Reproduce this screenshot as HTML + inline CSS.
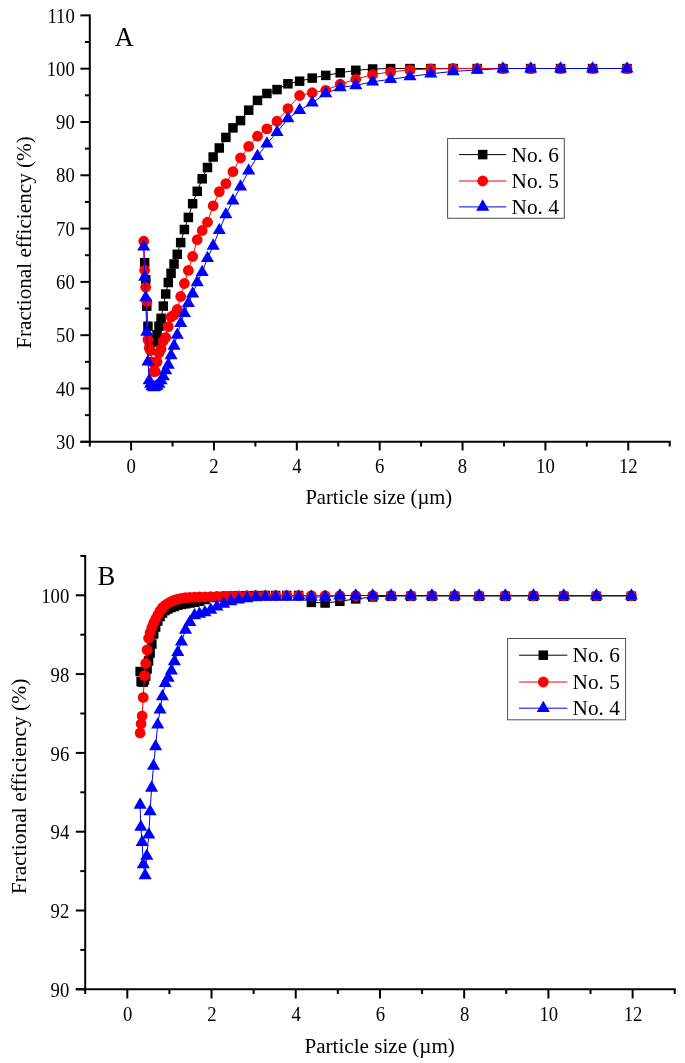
<!DOCTYPE html>
<html><head><meta charset="utf-8"><style>
html,body{margin:0;padding:0;background:#fff;}
svg{display:block;will-change:transform;}
text{font-family:"Liberation Serif",serif;fill:#000;}
</style></head><body>
<svg width="685" height="1063" viewBox="0 0 685 1063">
<rect width="685" height="1063" fill="#fff"/>
<line x1="89.8" y1="14.38" x2="89.8" y2="446.6" stroke="#000" stroke-width="2"/>
<line x1="80.4" y1="441.8" x2="670.7" y2="441.8" stroke="#000" stroke-width="2"/>
<line x1="80.4" y1="441.8" x2="89.8" y2="441.8" stroke="#000" stroke-width="2"/>
<line x1="80.4" y1="388.5" x2="89.8" y2="388.5" stroke="#000" stroke-width="2"/>
<line x1="80.4" y1="335.19" x2="89.8" y2="335.19" stroke="#000" stroke-width="2"/>
<line x1="80.4" y1="281.89" x2="89.8" y2="281.89" stroke="#000" stroke-width="2"/>
<line x1="80.4" y1="228.59" x2="89.8" y2="228.59" stroke="#000" stroke-width="2"/>
<line x1="80.4" y1="175.29" x2="89.8" y2="175.29" stroke="#000" stroke-width="2"/>
<line x1="80.4" y1="121.98" x2="89.8" y2="121.98" stroke="#000" stroke-width="2"/>
<line x1="80.4" y1="68.68" x2="89.8" y2="68.68" stroke="#000" stroke-width="2"/>
<line x1="80.4" y1="15.38" x2="89.8" y2="15.38" stroke="#000" stroke-width="2"/>
<line x1="84.9" y1="415.15" x2="89.8" y2="415.15" stroke="#000" stroke-width="2"/>
<line x1="84.9" y1="361.85" x2="89.8" y2="361.85" stroke="#000" stroke-width="2"/>
<line x1="84.9" y1="308.54" x2="89.8" y2="308.54" stroke="#000" stroke-width="2"/>
<line x1="84.9" y1="255.24" x2="89.8" y2="255.24" stroke="#000" stroke-width="2"/>
<line x1="84.9" y1="201.94" x2="89.8" y2="201.94" stroke="#000" stroke-width="2"/>
<line x1="84.9" y1="148.63" x2="89.8" y2="148.63" stroke="#000" stroke-width="2"/>
<line x1="84.9" y1="95.33" x2="89.8" y2="95.33" stroke="#000" stroke-width="2"/>
<line x1="84.9" y1="42.03" x2="89.8" y2="42.03" stroke="#000" stroke-width="2"/>
<line x1="131.1" y1="441.8" x2="131.1" y2="450.4" stroke="#000" stroke-width="2"/>
<line x1="172.53" y1="441.8" x2="172.53" y2="446.5" stroke="#000" stroke-width="2"/>
<line x1="213.96" y1="441.8" x2="213.96" y2="450.4" stroke="#000" stroke-width="2"/>
<line x1="255.39" y1="441.8" x2="255.39" y2="446.5" stroke="#000" stroke-width="2"/>
<line x1="296.82" y1="441.8" x2="296.82" y2="450.4" stroke="#000" stroke-width="2"/>
<line x1="338.25" y1="441.8" x2="338.25" y2="446.5" stroke="#000" stroke-width="2"/>
<line x1="379.68" y1="441.8" x2="379.68" y2="450.4" stroke="#000" stroke-width="2"/>
<line x1="421.11" y1="441.8" x2="421.11" y2="446.5" stroke="#000" stroke-width="2"/>
<line x1="462.54" y1="441.8" x2="462.54" y2="450.4" stroke="#000" stroke-width="2"/>
<line x1="503.97" y1="441.8" x2="503.97" y2="446.5" stroke="#000" stroke-width="2"/>
<line x1="545.4" y1="441.8" x2="545.4" y2="450.4" stroke="#000" stroke-width="2"/>
<line x1="586.83" y1="441.8" x2="586.83" y2="446.5" stroke="#000" stroke-width="2"/>
<line x1="628.26" y1="441.8" x2="628.26" y2="450.4" stroke="#000" stroke-width="2"/>
<line x1="669.69" y1="441.8" x2="669.69" y2="446.5" stroke="#000" stroke-width="2"/>
<text transform="translate(74.8 449) scale(0.935 1)" font-size="20.0" text-anchor="end">30</text>
<text transform="translate(74.8 395.7) scale(0.935 1)" font-size="20.0" text-anchor="end">40</text>
<text transform="translate(74.8 342.39) scale(0.935 1)" font-size="20.0" text-anchor="end">50</text>
<text transform="translate(74.8 289.09) scale(0.935 1)" font-size="20.0" text-anchor="end">60</text>
<text transform="translate(74.8 235.79) scale(0.935 1)" font-size="20.0" text-anchor="end">70</text>
<text transform="translate(74.8 182.49) scale(0.935 1)" font-size="20.0" text-anchor="end">80</text>
<text transform="translate(74.8 129.18) scale(0.935 1)" font-size="20.0" text-anchor="end">90</text>
<text transform="translate(74.8 75.88) scale(0.935 1)" font-size="20.0" text-anchor="end">100</text>
<text transform="translate(74.8 22.58) scale(0.935 1)" font-size="20.0" text-anchor="end">110</text>
<text transform="translate(131.1 472.8) scale(0.935 1)" font-size="20.0" text-anchor="middle">0</text>
<text transform="translate(213.96 472.8) scale(0.935 1)" font-size="20.0" text-anchor="middle">2</text>
<text transform="translate(296.82 472.8) scale(0.935 1)" font-size="20.0" text-anchor="middle">4</text>
<text transform="translate(379.68 472.8) scale(0.935 1)" font-size="20.0" text-anchor="middle">6</text>
<text transform="translate(462.54 472.8) scale(0.935 1)" font-size="20.0" text-anchor="middle">8</text>
<text transform="translate(545.4 472.8) scale(0.935 1)" font-size="20.0" text-anchor="middle">10</text>
<text transform="translate(628.26 472.8) scale(0.935 1)" font-size="20.0" text-anchor="middle">12</text>
<text x="378.8" y="504" font-size="20.6" text-anchor="middle" >Particle size (&#181;m)</text>
<text x="0" y="0" font-size="21.2" text-anchor="middle" transform="translate(31.2 242.5) rotate(-90)">Fractional efficiency (%)</text>
<text x="114.8" y="45.7" font-size="26.3" text-anchor="start" >A</text>
<line x1="85.2" y1="554.9" x2="85.2" y2="994.1" stroke="#000" stroke-width="2"/>
<line x1="75.8" y1="989.3" x2="675.7" y2="989.3" stroke="#000" stroke-width="2"/>
<line x1="75.8" y1="989.3" x2="85.2" y2="989.3" stroke="#000" stroke-width="2"/>
<line x1="75.8" y1="910.5" x2="85.2" y2="910.5" stroke="#000" stroke-width="2"/>
<line x1="75.8" y1="831.7" x2="85.2" y2="831.7" stroke="#000" stroke-width="2"/>
<line x1="75.8" y1="752.9" x2="85.2" y2="752.9" stroke="#000" stroke-width="2"/>
<line x1="75.8" y1="674.1" x2="85.2" y2="674.1" stroke="#000" stroke-width="2"/>
<line x1="75.8" y1="595.3" x2="85.2" y2="595.3" stroke="#000" stroke-width="2"/>
<line x1="80.3" y1="949.9" x2="85.2" y2="949.9" stroke="#000" stroke-width="2"/>
<line x1="80.3" y1="871.1" x2="85.2" y2="871.1" stroke="#000" stroke-width="2"/>
<line x1="80.3" y1="792.3" x2="85.2" y2="792.3" stroke="#000" stroke-width="2"/>
<line x1="80.3" y1="713.5" x2="85.2" y2="713.5" stroke="#000" stroke-width="2"/>
<line x1="80.3" y1="634.7" x2="85.2" y2="634.7" stroke="#000" stroke-width="2"/>
<line x1="80.3" y1="555.9" x2="85.2" y2="555.9" stroke="#000" stroke-width="2"/>
<line x1="127.3" y1="989.3" x2="127.3" y2="998.5" stroke="#000" stroke-width="2"/>
<line x1="169.41" y1="989.3" x2="169.41" y2="994" stroke="#000" stroke-width="2"/>
<line x1="211.52" y1="989.3" x2="211.52" y2="998.5" stroke="#000" stroke-width="2"/>
<line x1="253.63" y1="989.3" x2="253.63" y2="994" stroke="#000" stroke-width="2"/>
<line x1="295.74" y1="989.3" x2="295.74" y2="998.5" stroke="#000" stroke-width="2"/>
<line x1="337.85" y1="989.3" x2="337.85" y2="994" stroke="#000" stroke-width="2"/>
<line x1="379.96" y1="989.3" x2="379.96" y2="998.5" stroke="#000" stroke-width="2"/>
<line x1="422.07" y1="989.3" x2="422.07" y2="994" stroke="#000" stroke-width="2"/>
<line x1="464.18" y1="989.3" x2="464.18" y2="998.5" stroke="#000" stroke-width="2"/>
<line x1="506.29" y1="989.3" x2="506.29" y2="994" stroke="#000" stroke-width="2"/>
<line x1="548.4" y1="989.3" x2="548.4" y2="998.5" stroke="#000" stroke-width="2"/>
<line x1="590.51" y1="989.3" x2="590.51" y2="994" stroke="#000" stroke-width="2"/>
<line x1="632.62" y1="989.3" x2="632.62" y2="998.5" stroke="#000" stroke-width="2"/>
<line x1="674.73" y1="989.3" x2="674.73" y2="994" stroke="#000" stroke-width="2"/>
<text transform="translate(69.3 997) scale(0.935 1)" font-size="20.0" text-anchor="end">90</text>
<text transform="translate(69.3 918.2) scale(0.935 1)" font-size="20.0" text-anchor="end">92</text>
<text transform="translate(69.3 839.4) scale(0.935 1)" font-size="20.0" text-anchor="end">94</text>
<text transform="translate(69.3 760.6) scale(0.935 1)" font-size="20.0" text-anchor="end">96</text>
<text transform="translate(69.3 681.8) scale(0.935 1)" font-size="20.0" text-anchor="end">98</text>
<text transform="translate(69.3 603) scale(0.935 1)" font-size="20.0" text-anchor="end">100</text>
<text transform="translate(127.7 1021.1) scale(0.935 1)" font-size="20.0" text-anchor="middle">0</text>
<text transform="translate(211.92 1021.1) scale(0.935 1)" font-size="20.0" text-anchor="middle">2</text>
<text transform="translate(296.14 1021.1) scale(0.935 1)" font-size="20.0" text-anchor="middle">4</text>
<text transform="translate(380.36 1021.1) scale(0.935 1)" font-size="20.0" text-anchor="middle">6</text>
<text transform="translate(464.58 1021.1) scale(0.935 1)" font-size="20.0" text-anchor="middle">8</text>
<text transform="translate(548.8 1021.1) scale(0.935 1)" font-size="20.0" text-anchor="middle">10</text>
<text transform="translate(633.02 1021.1) scale(0.935 1)" font-size="20.0" text-anchor="middle">12</text>
<text x="379.7" y="1052.9" font-size="21.1" text-anchor="middle" >Particle size (&#181;m)</text>
<text x="0" y="0" font-size="21.5" text-anchor="middle" transform="translate(25.5 786.5) rotate(-90)">Fractional efficiency (%)</text>
<text x="97.5" y="584.8" font-size="26.6" text-anchor="start" >B</text>
<polyline fill="none" stroke="#000" stroke-width="1.0" points="144.68,262.6 145.69,279.7 146.78,306.2 147.95,326.2 149.21,340 150.56,342 152.01,342 153.57,341.5 155.25,341.4 157.05,334.7 158.99,326.2 161.07,318.3 163.3,306.1 165.71,294 168.29,282.5 171.06,273.3 174.04,264 177.25,254.3 180.69,242.6 184.39,229.5 188.37,217.4 192.64,203.7 197.23,191.3 202.17,178.8 207.47,167.5 213.17,157 219.29,148 225.87,137.4 232.94,127.9 240.54,120.6 248.7,110.2 257.47,100.4 266.9,93.5 277.03,89.6 287.92,83.8 299.62,81.2 312.2,78.1 325.71,75.4 340.23,72.8 355.83,70.3 372.6,69 390.61,68.5 409.97,68.5 430.78,68.5 453.14,68.5 477.17,68.5 502.99,68.5 530.73,68.5 560.55,68.5 592.59,68.5 627.02,68.5"/>
<rect x="139.93" y="257.85" width="9.5" height="9.5" fill="#000"/>
<rect x="140.94" y="274.95" width="9.5" height="9.5" fill="#000"/>
<rect x="142.03" y="301.45" width="9.5" height="9.5" fill="#000"/>
<rect x="143.2" y="321.45" width="9.5" height="9.5" fill="#000"/>
<rect x="144.46" y="335.25" width="9.5" height="9.5" fill="#000"/>
<rect x="145.81" y="337.25" width="9.5" height="9.5" fill="#000"/>
<rect x="147.26" y="337.25" width="9.5" height="9.5" fill="#000"/>
<rect x="148.82" y="336.75" width="9.5" height="9.5" fill="#000"/>
<rect x="150.5" y="336.65" width="9.5" height="9.5" fill="#000"/>
<rect x="152.3" y="329.95" width="9.5" height="9.5" fill="#000"/>
<rect x="154.24" y="321.45" width="9.5" height="9.5" fill="#000"/>
<rect x="156.32" y="313.55" width="9.5" height="9.5" fill="#000"/>
<rect x="158.55" y="301.35" width="9.5" height="9.5" fill="#000"/>
<rect x="160.96" y="289.25" width="9.5" height="9.5" fill="#000"/>
<rect x="163.54" y="277.75" width="9.5" height="9.5" fill="#000"/>
<rect x="166.31" y="268.55" width="9.5" height="9.5" fill="#000"/>
<rect x="169.29" y="259.25" width="9.5" height="9.5" fill="#000"/>
<rect x="172.5" y="249.55" width="9.5" height="9.5" fill="#000"/>
<rect x="175.94" y="237.85" width="9.5" height="9.5" fill="#000"/>
<rect x="179.64" y="224.75" width="9.5" height="9.5" fill="#000"/>
<rect x="183.62" y="212.65" width="9.5" height="9.5" fill="#000"/>
<rect x="187.89" y="198.95" width="9.5" height="9.5" fill="#000"/>
<rect x="192.48" y="186.55" width="9.5" height="9.5" fill="#000"/>
<rect x="197.42" y="174.05" width="9.5" height="9.5" fill="#000"/>
<rect x="202.72" y="162.75" width="9.5" height="9.5" fill="#000"/>
<rect x="208.42" y="152.25" width="9.5" height="9.5" fill="#000"/>
<rect x="214.54" y="143.25" width="9.5" height="9.5" fill="#000"/>
<rect x="221.12" y="132.65" width="9.5" height="9.5" fill="#000"/>
<rect x="228.19" y="123.15" width="9.5" height="9.5" fill="#000"/>
<rect x="235.79" y="115.85" width="9.5" height="9.5" fill="#000"/>
<rect x="243.95" y="105.45" width="9.5" height="9.5" fill="#000"/>
<rect x="252.72" y="95.65" width="9.5" height="9.5" fill="#000"/>
<rect x="262.15" y="88.75" width="9.5" height="9.5" fill="#000"/>
<rect x="272.28" y="84.85" width="9.5" height="9.5" fill="#000"/>
<rect x="283.17" y="79.05" width="9.5" height="9.5" fill="#000"/>
<rect x="294.87" y="76.45" width="9.5" height="9.5" fill="#000"/>
<rect x="307.45" y="73.35" width="9.5" height="9.5" fill="#000"/>
<rect x="320.96" y="70.65" width="9.5" height="9.5" fill="#000"/>
<rect x="335.48" y="68.05" width="9.5" height="9.5" fill="#000"/>
<rect x="351.08" y="65.55" width="9.5" height="9.5" fill="#000"/>
<rect x="367.85" y="64.25" width="9.5" height="9.5" fill="#000"/>
<rect x="385.86" y="63.85" width="9.5" height="9.5" fill="#000"/>
<rect x="405.22" y="63.85" width="9.5" height="9.5" fill="#000"/>
<rect x="426.03" y="63.85" width="9.5" height="9.5" fill="#000"/>
<rect x="448.39" y="63.85" width="9.5" height="9.5" fill="#000"/>
<rect x="472.42" y="63.85" width="9.5" height="9.5" fill="#000"/>
<rect x="498.24" y="63.85" width="9.5" height="9.5" fill="#000"/>
<rect x="525.98" y="63.85" width="9.5" height="9.5" fill="#000"/>
<rect x="555.8" y="63.85" width="9.5" height="9.5" fill="#000"/>
<rect x="587.84" y="63.85" width="9.5" height="9.5" fill="#000"/>
<rect x="622.27" y="63.85" width="9.5" height="9.5" fill="#000"/>
<polyline fill="none" stroke="#f00" stroke-width="1.0" points="143.74,241.2 144.68,270.2 145.69,287.3 146.78,301.5 147.95,339.5 149.21,348 150.56,350.5 152.01,362 153.57,371.5 155.25,371.5 157.05,362 158.99,353 161.07,349 163.3,341 165.71,337.5 168.29,326.6 171.06,317 174.04,315 177.25,309.5 180.69,296.5 184.39,283.5 188.37,270.4 192.64,256.5 197.23,239.7 202.17,230.5 207.47,222.2 213.17,205.8 219.29,191.6 225.87,183.6 232.94,171.6 240.54,158 248.7,146.4 257.47,136.2 266.9,128.9 277.03,121.2 287.92,108.6 299.62,95.5 312.2,92.7 325.71,90.3 340.23,84.2 355.83,79.3 372.6,74.6 390.61,71.9 409.97,69.9 430.78,69 453.14,68.5 477.17,68.5 502.99,68.5 530.73,68.5 560.55,68.5 592.59,68.5 627.02,68.5"/>
<circle cx="143.74" cy="241.2" r="5.4" fill="#f00"/>
<circle cx="144.68" cy="270.2" r="5.4" fill="#f00"/>
<circle cx="145.69" cy="287.3" r="5.4" fill="#f00"/>
<circle cx="146.78" cy="301.5" r="5.4" fill="#f00"/>
<circle cx="147.95" cy="339.5" r="5.4" fill="#f00"/>
<circle cx="149.21" cy="348" r="5.4" fill="#f00"/>
<circle cx="150.56" cy="350.5" r="5.4" fill="#f00"/>
<circle cx="152.01" cy="362" r="5.4" fill="#f00"/>
<circle cx="153.57" cy="371.5" r="5.4" fill="#f00"/>
<circle cx="155.25" cy="371.5" r="5.4" fill="#f00"/>
<circle cx="157.05" cy="362" r="5.4" fill="#f00"/>
<circle cx="158.99" cy="353" r="5.4" fill="#f00"/>
<circle cx="161.07" cy="349" r="5.4" fill="#f00"/>
<circle cx="163.3" cy="341" r="5.4" fill="#f00"/>
<circle cx="165.71" cy="337.5" r="5.4" fill="#f00"/>
<circle cx="168.29" cy="326.6" r="5.4" fill="#f00"/>
<circle cx="171.06" cy="317" r="5.4" fill="#f00"/>
<circle cx="174.04" cy="315" r="5.4" fill="#f00"/>
<circle cx="177.25" cy="309.5" r="5.4" fill="#f00"/>
<circle cx="180.69" cy="296.5" r="5.4" fill="#f00"/>
<circle cx="184.39" cy="283.5" r="5.4" fill="#f00"/>
<circle cx="188.37" cy="270.4" r="5.4" fill="#f00"/>
<circle cx="192.64" cy="256.5" r="5.4" fill="#f00"/>
<circle cx="197.23" cy="239.7" r="5.4" fill="#f00"/>
<circle cx="202.17" cy="230.5" r="5.4" fill="#f00"/>
<circle cx="207.47" cy="222.2" r="5.4" fill="#f00"/>
<circle cx="213.17" cy="205.8" r="5.4" fill="#f00"/>
<circle cx="219.29" cy="191.6" r="5.4" fill="#f00"/>
<circle cx="225.87" cy="183.6" r="5.4" fill="#f00"/>
<circle cx="232.94" cy="171.6" r="5.4" fill="#f00"/>
<circle cx="240.54" cy="158" r="5.4" fill="#f00"/>
<circle cx="248.7" cy="146.4" r="5.4" fill="#f00"/>
<circle cx="257.47" cy="136.2" r="5.4" fill="#f00"/>
<circle cx="266.9" cy="128.9" r="5.4" fill="#f00"/>
<circle cx="277.03" cy="121.2" r="5.4" fill="#f00"/>
<circle cx="287.92" cy="108.6" r="5.4" fill="#f00"/>
<circle cx="299.62" cy="95.5" r="5.4" fill="#f00"/>
<circle cx="312.2" cy="92.7" r="5.4" fill="#f00"/>
<circle cx="325.71" cy="90.3" r="5.4" fill="#f00"/>
<circle cx="340.23" cy="84.2" r="5.4" fill="#f00"/>
<circle cx="355.83" cy="79.3" r="5.4" fill="#f00"/>
<circle cx="372.6" cy="74.6" r="5.4" fill="#f00"/>
<circle cx="390.61" cy="71.9" r="5.4" fill="#f00"/>
<circle cx="409.97" cy="69.9" r="5.4" fill="#f00"/>
<circle cx="430.78" cy="69" r="5.4" fill="#f00"/>
<circle cx="453.14" cy="68.5" r="5.4" fill="#f00"/>
<circle cx="477.17" cy="68.7" r="5.4" fill="#f00"/>
<circle cx="502.99" cy="68.7" r="5.4" fill="#f00"/>
<circle cx="530.73" cy="68.7" r="5.4" fill="#f00"/>
<circle cx="560.55" cy="68.7" r="5.4" fill="#f00"/>
<circle cx="592.59" cy="68.7" r="5.4" fill="#f00"/>
<circle cx="627.02" cy="68.7" r="5.4" fill="#f00"/>
<polyline fill="none" stroke="#00f" stroke-width="1.0" points="143.74,246.8 144.68,277.1 145.69,297.5 146.78,332 147.95,361.8 149.21,380.6 150.56,384 152.01,386.3 153.57,387.6 155.25,387 157.05,386 158.99,384 161.07,380.5 163.3,376.6 165.71,370.5 168.29,364.9 171.06,355.5 174.04,345.9 177.25,335 180.69,323.3 184.39,313.3 188.37,303.2 192.64,293.8 197.23,282.4 202.17,272.2 207.47,258.3 213.17,245.9 219.29,230.3 225.87,214.6 232.94,200.7 240.54,186.8 248.7,170.8 257.47,156.3 266.9,143.8 277.03,132.2 287.92,118.6 299.62,110.3 312.2,102.8 325.71,93.6 340.23,87.5 355.83,85.4 372.6,81.7 390.61,79.3 409.97,76.5 430.78,73.8 453.14,71.4 477.17,70 502.99,68.5 530.73,68.5 560.55,68.5 592.59,68.5 627.02,68.5"/>
<path d="M143.74 239.27L150.29 250.57L137.19 250.57Z" fill="#00f"/>
<path d="M144.68 269.57L151.23 280.87L138.13 280.87Z" fill="#00f"/>
<path d="M145.69 289.97L152.24 301.27L139.14 301.27Z" fill="#00f"/>
<path d="M146.78 324.47L153.33 335.77L140.23 335.77Z" fill="#00f"/>
<path d="M147.95 354.27L154.5 365.57L141.4 365.57Z" fill="#00f"/>
<path d="M149.21 373.07L155.76 384.37L142.66 384.37Z" fill="#00f"/>
<path d="M150.56 376.47L157.11 387.77L144.01 387.77Z" fill="#00f"/>
<path d="M152.01 378.77L158.56 390.07L145.46 390.07Z" fill="#00f"/>
<path d="M153.57 380.07L160.12 391.37L147.02 391.37Z" fill="#00f"/>
<path d="M155.25 379.47L161.8 390.77L148.7 390.77Z" fill="#00f"/>
<path d="M157.05 378.47L163.6 389.77L150.5 389.77Z" fill="#00f"/>
<path d="M158.99 376.47L165.54 387.77L152.44 387.77Z" fill="#00f"/>
<path d="M161.07 372.97L167.62 384.27L154.52 384.27Z" fill="#00f"/>
<path d="M163.3 369.07L169.85 380.37L156.75 380.37Z" fill="#00f"/>
<path d="M165.71 362.97L172.26 374.27L159.16 374.27Z" fill="#00f"/>
<path d="M168.29 357.37L174.84 368.67L161.74 368.67Z" fill="#00f"/>
<path d="M171.06 347.97L177.61 359.27L164.51 359.27Z" fill="#00f"/>
<path d="M174.04 338.37L180.59 349.67L167.49 349.67Z" fill="#00f"/>
<path d="M177.25 327.47L183.8 338.77L170.7 338.77Z" fill="#00f"/>
<path d="M180.69 315.77L187.24 327.07L174.14 327.07Z" fill="#00f"/>
<path d="M184.39 305.77L190.94 317.07L177.84 317.07Z" fill="#00f"/>
<path d="M188.37 295.67L194.92 306.97L181.82 306.97Z" fill="#00f"/>
<path d="M192.64 286.27L199.19 297.57L186.09 297.57Z" fill="#00f"/>
<path d="M197.23 274.87L203.78 286.17L190.68 286.17Z" fill="#00f"/>
<path d="M202.17 264.67L208.72 275.97L195.62 275.97Z" fill="#00f"/>
<path d="M207.47 250.77L214.02 262.07L200.92 262.07Z" fill="#00f"/>
<path d="M213.17 238.37L219.72 249.67L206.62 249.67Z" fill="#00f"/>
<path d="M219.29 222.77L225.84 234.07L212.74 234.07Z" fill="#00f"/>
<path d="M225.87 207.07L232.42 218.37L219.32 218.37Z" fill="#00f"/>
<path d="M232.94 193.17L239.49 204.47L226.39 204.47Z" fill="#00f"/>
<path d="M240.54 179.27L247.09 190.57L233.99 190.57Z" fill="#00f"/>
<path d="M248.7 163.27L255.25 174.57L242.15 174.57Z" fill="#00f"/>
<path d="M257.47 148.77L264.02 160.07L250.92 160.07Z" fill="#00f"/>
<path d="M266.9 136.27L273.45 147.57L260.35 147.57Z" fill="#00f"/>
<path d="M277.03 124.67L283.58 135.97L270.48 135.97Z" fill="#00f"/>
<path d="M287.92 111.07L294.47 122.37L281.37 122.37Z" fill="#00f"/>
<path d="M299.62 102.77L306.17 114.07L293.07 114.07Z" fill="#00f"/>
<path d="M312.2 95.27L318.75 106.57L305.65 106.57Z" fill="#00f"/>
<path d="M325.71 86.07L332.26 97.37L319.16 97.37Z" fill="#00f"/>
<path d="M340.23 79.97L346.78 91.27L333.68 91.27Z" fill="#00f"/>
<path d="M355.83 77.87L362.38 89.17L349.28 89.17Z" fill="#00f"/>
<path d="M372.6 74.17L379.15 85.47L366.05 85.47Z" fill="#00f"/>
<path d="M390.61 71.77L397.16 83.07L384.06 83.07Z" fill="#00f"/>
<path d="M409.97 68.97L416.52 80.27L403.42 80.27Z" fill="#00f"/>
<path d="M430.78 66.27L437.33 77.57L424.23 77.57Z" fill="#00f"/>
<path d="M453.14 63.87L459.69 75.17L446.59 75.17Z" fill="#00f"/>
<path d="M477.17 62.47L483.72 73.77L470.62 73.77Z" fill="#00f"/>
<path d="M502.99 61.27L509.54 72.57L496.44 72.57Z" fill="#00f"/>
<path d="M530.73 61.27L537.28 72.57L524.18 72.57Z" fill="#00f"/>
<path d="M560.55 61.27L567.1 72.57L554 72.57Z" fill="#00f"/>
<path d="M592.59 61.27L599.14 72.57L586.04 72.57Z" fill="#00f"/>
<path d="M627.02 61.27L633.57 72.57L620.47 72.57Z" fill="#00f"/>
<polyline fill="none" stroke="#000" stroke-width="1.0" points="140.14,671.5 141.1,681.5 142.13,682 143.24,682 144.43,680 145.71,676 147.08,669 148.56,661 150.14,653 151.85,644 153.68,634 155.65,627 157.76,621 160.03,616.5 162.47,613 165.1,610.5 167.92,609 170.95,607.5 174.21,606.5 177.71,605.2 181.47,604.4 185.51,603.8 189.85,603 194.52,602.3 199.53,601.3 204.92,599.5 210.71,597.5 216.94,597 223.62,596.5 230.81,596.2 238.53,596 246.83,595.8 255.75,595.6 265.33,595.5 275.63,595.5 286.7,595.5 298.59,595.5 311.37,602.4 325.1,603 339.86,601.3 355.72,598.9 372.76,597 391.07,596 410.75,596 431.9,596 454.63,596 479.05,596 505.29,596 533.49,596 563.8,596 596.36,596 631.36,596"/>
<rect x="135.39" y="666.75" width="9.5" height="9.5" fill="#000"/>
<rect x="136.35" y="676.75" width="9.5" height="9.5" fill="#000"/>
<rect x="137.38" y="677.25" width="9.5" height="9.5" fill="#000"/>
<rect x="138.49" y="677.25" width="9.5" height="9.5" fill="#000"/>
<rect x="139.68" y="675.25" width="9.5" height="9.5" fill="#000"/>
<rect x="140.96" y="671.25" width="9.5" height="9.5" fill="#000"/>
<rect x="142.33" y="664.25" width="9.5" height="9.5" fill="#000"/>
<rect x="143.81" y="656.25" width="9.5" height="9.5" fill="#000"/>
<rect x="145.39" y="648.25" width="9.5" height="9.5" fill="#000"/>
<rect x="147.1" y="639.25" width="9.5" height="9.5" fill="#000"/>
<rect x="148.93" y="629.25" width="9.5" height="9.5" fill="#000"/>
<rect x="150.9" y="622.25" width="9.5" height="9.5" fill="#000"/>
<rect x="153.01" y="616.25" width="9.5" height="9.5" fill="#000"/>
<rect x="155.28" y="611.75" width="9.5" height="9.5" fill="#000"/>
<rect x="157.72" y="608.25" width="9.5" height="9.5" fill="#000"/>
<rect x="160.35" y="605.75" width="9.5" height="9.5" fill="#000"/>
<rect x="163.17" y="604.25" width="9.5" height="9.5" fill="#000"/>
<rect x="166.2" y="602.75" width="9.5" height="9.5" fill="#000"/>
<rect x="169.46" y="601.75" width="9.5" height="9.5" fill="#000"/>
<rect x="172.96" y="600.45" width="9.5" height="9.5" fill="#000"/>
<rect x="176.72" y="599.65" width="9.5" height="9.5" fill="#000"/>
<rect x="180.76" y="599.05" width="9.5" height="9.5" fill="#000"/>
<rect x="185.1" y="598.25" width="9.5" height="9.5" fill="#000"/>
<rect x="189.77" y="597.55" width="9.5" height="9.5" fill="#000"/>
<rect x="194.78" y="596.55" width="9.5" height="9.5" fill="#000"/>
<rect x="200.17" y="594.75" width="9.5" height="9.5" fill="#000"/>
<rect x="205.96" y="592.75" width="9.5" height="9.5" fill="#000"/>
<rect x="212.19" y="592.25" width="9.5" height="9.5" fill="#000"/>
<rect x="218.87" y="591.75" width="9.5" height="9.5" fill="#000"/>
<rect x="226.06" y="591.45" width="9.5" height="9.5" fill="#000"/>
<rect x="233.78" y="591.25" width="9.5" height="9.5" fill="#000"/>
<rect x="242.08" y="591.05" width="9.5" height="9.5" fill="#000"/>
<rect x="251" y="590.85" width="9.5" height="9.5" fill="#000"/>
<rect x="260.58" y="590.75" width="9.5" height="9.5" fill="#000"/>
<rect x="270.88" y="590.75" width="9.5" height="9.5" fill="#000"/>
<rect x="281.95" y="590.75" width="9.5" height="9.5" fill="#000"/>
<rect x="293.84" y="590.75" width="9.5" height="9.5" fill="#000"/>
<rect x="306.62" y="597.65" width="9.5" height="9.5" fill="#000"/>
<rect x="320.35" y="598.25" width="9.5" height="9.5" fill="#000"/>
<rect x="335.11" y="596.55" width="9.5" height="9.5" fill="#000"/>
<rect x="350.97" y="594.15" width="9.5" height="9.5" fill="#000"/>
<rect x="368.01" y="592.25" width="9.5" height="9.5" fill="#000"/>
<rect x="386.32" y="591.55" width="9.5" height="9.5" fill="#000"/>
<rect x="406" y="591.55" width="9.5" height="9.5" fill="#000"/>
<rect x="427.15" y="591.55" width="9.5" height="9.5" fill="#000"/>
<rect x="449.88" y="591.55" width="9.5" height="9.5" fill="#000"/>
<rect x="474.3" y="591.55" width="9.5" height="9.5" fill="#000"/>
<rect x="500.54" y="591.55" width="9.5" height="9.5" fill="#000"/>
<rect x="528.74" y="591.55" width="9.5" height="9.5" fill="#000"/>
<rect x="559.05" y="591.55" width="9.5" height="9.5" fill="#000"/>
<rect x="591.61" y="591.55" width="9.5" height="9.5" fill="#000"/>
<rect x="626.61" y="591.55" width="9.5" height="9.5" fill="#000"/>
<polyline fill="none" stroke="#f00" stroke-width="1.0" points="140.14,733 141.1,723.7 142.13,716 143.24,697.4 144.43,675.6 145.71,663.4 147.08,649.9 148.56,638.3 150.14,632.5 151.85,627.5 153.68,623 155.65,619 157.76,615 160.03,611 162.47,607.6 165.1,605.3 167.92,603.3 170.95,601.6 174.21,600.2 177.71,599.1 181.47,598.3 185.51,597.7 189.85,597.4 194.52,597.2 199.53,597 204.92,596.8 210.71,596.6 216.94,596.4 223.62,596.2 230.81,596.1 238.53,596 246.83,595.5 255.75,595.5 265.33,595.5 275.63,595.5 286.7,595.5 298.59,595.5 311.37,595.5 325.1,595.5 339.86,595.5 355.72,595.5 372.76,595.5 391.07,595.5 410.75,595.5 431.9,595.5 454.63,595.5 479.05,595.5 505.29,595.5 533.49,595.5 563.8,595.5 596.36,595.5 631.36,595.5"/>
<circle cx="140.14" cy="733" r="5.4" fill="#f00"/>
<circle cx="141.1" cy="723.7" r="5.4" fill="#f00"/>
<circle cx="142.13" cy="716" r="5.4" fill="#f00"/>
<circle cx="143.24" cy="697.4" r="5.4" fill="#f00"/>
<circle cx="144.43" cy="675.6" r="5.4" fill="#f00"/>
<circle cx="145.71" cy="663.4" r="5.4" fill="#f00"/>
<circle cx="147.08" cy="649.9" r="5.4" fill="#f00"/>
<circle cx="148.56" cy="638.3" r="5.4" fill="#f00"/>
<circle cx="150.14" cy="632.5" r="5.4" fill="#f00"/>
<circle cx="151.85" cy="627.5" r="5.4" fill="#f00"/>
<circle cx="153.68" cy="623" r="5.4" fill="#f00"/>
<circle cx="155.65" cy="619" r="5.4" fill="#f00"/>
<circle cx="157.76" cy="615" r="5.4" fill="#f00"/>
<circle cx="160.03" cy="611" r="5.4" fill="#f00"/>
<circle cx="162.47" cy="607.6" r="5.4" fill="#f00"/>
<circle cx="165.1" cy="605.3" r="5.4" fill="#f00"/>
<circle cx="167.92" cy="603.3" r="5.4" fill="#f00"/>
<circle cx="170.95" cy="601.6" r="5.4" fill="#f00"/>
<circle cx="174.21" cy="600.2" r="5.4" fill="#f00"/>
<circle cx="177.71" cy="599.1" r="5.4" fill="#f00"/>
<circle cx="181.47" cy="598.3" r="5.4" fill="#f00"/>
<circle cx="185.51" cy="597.7" r="5.4" fill="#f00"/>
<circle cx="189.85" cy="597.4" r="5.4" fill="#f00"/>
<circle cx="194.52" cy="597.2" r="5.4" fill="#f00"/>
<circle cx="199.53" cy="597" r="5.4" fill="#f00"/>
<circle cx="204.92" cy="596.8" r="5.4" fill="#f00"/>
<circle cx="210.71" cy="596.6" r="5.4" fill="#f00"/>
<circle cx="216.94" cy="596.4" r="5.4" fill="#f00"/>
<circle cx="223.62" cy="596.2" r="5.4" fill="#f00"/>
<circle cx="230.81" cy="596.1" r="5.4" fill="#f00"/>
<circle cx="238.53" cy="596" r="5.4" fill="#f00"/>
<circle cx="246.83" cy="595.6" r="5.4" fill="#f00"/>
<circle cx="255.75" cy="595.6" r="5.4" fill="#f00"/>
<circle cx="265.33" cy="595.6" r="5.4" fill="#f00"/>
<circle cx="275.63" cy="595.6" r="5.4" fill="#f00"/>
<circle cx="286.7" cy="595.6" r="5.4" fill="#f00"/>
<circle cx="298.59" cy="595.6" r="5.4" fill="#f00"/>
<circle cx="311.37" cy="595.6" r="5.4" fill="#f00"/>
<circle cx="325.1" cy="595.6" r="5.4" fill="#f00"/>
<circle cx="339.86" cy="595.6" r="5.4" fill="#f00"/>
<circle cx="355.72" cy="595.6" r="5.4" fill="#f00"/>
<circle cx="372.76" cy="595.6" r="5.4" fill="#f00"/>
<circle cx="391.07" cy="595.6" r="5.4" fill="#f00"/>
<circle cx="410.75" cy="595.6" r="5.4" fill="#f00"/>
<circle cx="431.9" cy="595.6" r="5.4" fill="#f00"/>
<circle cx="454.63" cy="595.6" r="5.4" fill="#f00"/>
<circle cx="479.05" cy="595.6" r="5.4" fill="#f00"/>
<circle cx="505.29" cy="595.6" r="5.4" fill="#f00"/>
<circle cx="533.49" cy="595.6" r="5.4" fill="#f00"/>
<circle cx="563.8" cy="595.6" r="5.4" fill="#f00"/>
<circle cx="596.36" cy="595.6" r="5.4" fill="#f00"/>
<circle cx="631.36" cy="595.6" r="5.4" fill="#f00"/>
<polyline fill="none" stroke="#00f" stroke-width="1.0" points="140.1,804.9 140.8,827.1 142.1,842.3 143.3,864.6 145.1,875.4 146.8,856 148.8,834.7 150.1,811.5 151.6,787.9 153.5,766.1 155.6,746.5 157.7,724.8 160.1,709.7 162.4,696.5 165.2,683.3 168.2,678 171.4,670.8 174.4,661.6 177.8,652.3 181.47,641.8 185.51,629.9 189.85,622.3 194.52,615.6 199.53,614.1 204.92,612.6 210.71,610 216.94,606.8 223.62,604.1 230.81,601.4 238.53,599.8 246.83,598.4 255.75,597.4 265.33,597 275.63,597 286.7,597 298.59,597 311.37,597 325.1,597 339.86,595.5 355.72,595.5 372.76,595.5 391.07,595.5 410.75,595.5 431.9,595.5 454.63,595.5 479.05,595.5 505.29,595.5 533.49,595.5 563.8,595.5 596.36,595.5 631.36,595.5"/>
<path d="M140.1 797.37L146.65 808.67L133.55 808.67Z" fill="#00f"/>
<path d="M140.8 819.57L147.35 830.87L134.25 830.87Z" fill="#00f"/>
<path d="M142.1 834.77L148.65 846.07L135.55 846.07Z" fill="#00f"/>
<path d="M143.3 857.07L149.85 868.37L136.75 868.37Z" fill="#00f"/>
<path d="M145.1 867.87L151.65 879.17L138.55 879.17Z" fill="#00f"/>
<path d="M146.8 848.47L153.35 859.77L140.25 859.77Z" fill="#00f"/>
<path d="M148.8 827.17L155.35 838.47L142.25 838.47Z" fill="#00f"/>
<path d="M150.1 803.97L156.65 815.27L143.55 815.27Z" fill="#00f"/>
<path d="M151.6 780.37L158.15 791.67L145.05 791.67Z" fill="#00f"/>
<path d="M153.5 758.57L160.05 769.87L146.95 769.87Z" fill="#00f"/>
<path d="M155.6 738.97L162.15 750.27L149.05 750.27Z" fill="#00f"/>
<path d="M157.7 717.27L164.25 728.57L151.15 728.57Z" fill="#00f"/>
<path d="M160.1 702.17L166.65 713.47L153.55 713.47Z" fill="#00f"/>
<path d="M162.4 688.97L168.95 700.27L155.85 700.27Z" fill="#00f"/>
<path d="M165.2 675.77L171.75 687.07L158.65 687.07Z" fill="#00f"/>
<path d="M168.2 670.47L174.75 681.77L161.65 681.77Z" fill="#00f"/>
<path d="M171.4 663.27L177.95 674.57L164.85 674.57Z" fill="#00f"/>
<path d="M174.4 654.07L180.95 665.37L167.85 665.37Z" fill="#00f"/>
<path d="M177.8 644.77L184.35 656.07L171.25 656.07Z" fill="#00f"/>
<path d="M181.47 634.27L188.02 645.57L174.92 645.57Z" fill="#00f"/>
<path d="M185.51 622.37L192.06 633.67L178.96 633.67Z" fill="#00f"/>
<path d="M189.85 614.77L196.4 626.07L183.3 626.07Z" fill="#00f"/>
<path d="M194.52 608.07L201.07 619.37L187.97 619.37Z" fill="#00f"/>
<path d="M199.53 606.57L206.08 617.87L192.98 617.87Z" fill="#00f"/>
<path d="M204.92 605.07L211.47 616.37L198.37 616.37Z" fill="#00f"/>
<path d="M210.71 602.47L217.26 613.77L204.16 613.77Z" fill="#00f"/>
<path d="M216.94 599.27L223.49 610.57L210.39 610.57Z" fill="#00f"/>
<path d="M223.62 596.57L230.17 607.87L217.07 607.87Z" fill="#00f"/>
<path d="M230.81 593.87L237.36 605.17L224.26 605.17Z" fill="#00f"/>
<path d="M238.53 592.27L245.08 603.57L231.98 603.57Z" fill="#00f"/>
<path d="M246.83 590.87L253.38 602.17L240.28 602.17Z" fill="#00f"/>
<path d="M255.75 589.87L262.3 601.17L249.2 601.17Z" fill="#00f"/>
<path d="M265.33 589.47L271.88 600.77L258.78 600.77Z" fill="#00f"/>
<path d="M275.63 589.47L282.18 600.77L269.08 600.77Z" fill="#00f"/>
<path d="M286.7 589.47L293.25 600.77L280.15 600.77Z" fill="#00f"/>
<path d="M298.59 589.47L305.14 600.77L292.04 600.77Z" fill="#00f"/>
<path d="M311.37 589.47L317.92 600.77L304.82 600.77Z" fill="#00f"/>
<path d="M325.1 589.47L331.65 600.77L318.55 600.77Z" fill="#00f"/>
<path d="M339.86 588.17L346.41 599.47L333.31 599.47Z" fill="#00f"/>
<path d="M355.72 588.17L362.27 599.47L349.17 599.47Z" fill="#00f"/>
<path d="M372.76 588.17L379.31 599.47L366.21 599.47Z" fill="#00f"/>
<path d="M391.07 588.17L397.62 599.47L384.52 599.47Z" fill="#00f"/>
<path d="M410.75 588.17L417.3 599.47L404.2 599.47Z" fill="#00f"/>
<path d="M431.9 588.17L438.45 599.47L425.35 599.47Z" fill="#00f"/>
<path d="M454.63 588.17L461.18 599.47L448.08 599.47Z" fill="#00f"/>
<path d="M479.05 588.17L485.6 599.47L472.5 599.47Z" fill="#00f"/>
<path d="M505.29 588.17L511.84 599.47L498.74 599.47Z" fill="#00f"/>
<path d="M533.49 588.17L540.04 599.47L526.94 599.47Z" fill="#00f"/>
<path d="M563.8 588.17L570.35 599.47L557.25 599.47Z" fill="#00f"/>
<path d="M596.36 588.17L602.91 599.47L589.81 599.47Z" fill="#00f"/>
<path d="M631.36 588.17L637.91 599.47L624.81 599.47Z" fill="#00f"/>
<rect x="447.6" y="138.5" width="116.7" height="79.8" fill="#fff" stroke="#505050" stroke-width="1"/>
<line x1="459" y1="154.6" x2="506.4" y2="154.6" stroke="#000" stroke-width="1"/>
<rect x="477.95" y="149.85" width="9.5" height="9.5" fill="#000"/>
<text transform="translate(511.5 161.5) scale(1.05 1)" font-size="20.3">No. 6</text>
<line x1="459" y1="181" x2="506.4" y2="181" stroke="#f00" stroke-width="1"/>
<circle cx="482.7" cy="181" r="5.4" fill="#f00"/>
<text transform="translate(511.5 187.9) scale(1.05 1)" font-size="20.3">No. 5</text>
<line x1="459" y1="206.9" x2="506.4" y2="206.9" stroke="#00f" stroke-width="1"/>
<path d="M482.7 199.37L489.25 210.67L476.15 210.67Z" fill="#00f"/>
<text transform="translate(511.5 213.8) scale(1.05 1)" font-size="20.3">No. 4</text>
<rect x="507.6" y="638.5" width="118" height="81.3" fill="#fff" stroke="#505050" stroke-width="1"/>
<line x1="519" y1="655.2" x2="567.4" y2="655.2" stroke="#000" stroke-width="1"/>
<rect x="538.55" y="650.45" width="9.5" height="9.5" fill="#000"/>
<text transform="translate(572.5 662.1) scale(1.05 1)" font-size="20.3">No. 6</text>
<line x1="519" y1="682" x2="567.4" y2="682" stroke="#f00" stroke-width="1"/>
<circle cx="543.3" cy="682" r="5.4" fill="#f00"/>
<text transform="translate(572.5 688.9) scale(1.05 1)" font-size="20.3">No. 5</text>
<line x1="519" y1="708.2" x2="567.4" y2="708.2" stroke="#00f" stroke-width="1"/>
<path d="M543.3 700.67L549.85 711.97L536.75 711.97Z" fill="#00f"/>
<text transform="translate(572.5 715.1) scale(1.05 1)" font-size="20.3">No. 4</text>
</svg>
</body></html>
